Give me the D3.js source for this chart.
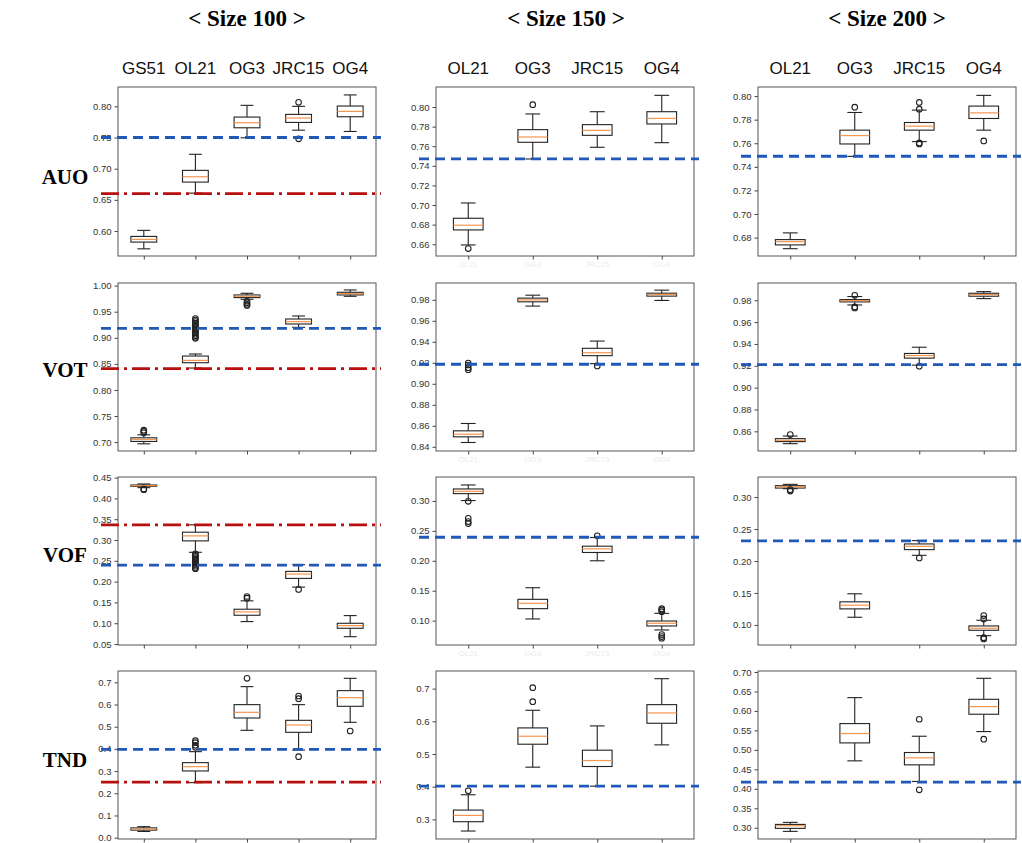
<!DOCTYPE html>
<html>
<head>
<meta charset="utf-8">
<script src="https://cdn.jsdelivr.net/npm/d3@7"></script>
<style>
  html, body { margin: 0; padding: 0; background: #fff; }
  svg { display: block; }
</style>
</head>
<body>
<svg id="chart" width="1022" height="843"></svg>
<script>
// ---------------- DATA ----------------
const metrics = ["AUO", "VOT", "VOF", "TND"];
const sizeTitles = ["< Size 100 >", "< Size 150 >", "< Size 200 >"];
const categories100 = ["GS51", "OL21", "OG3", "JRC15", "OG4"];
const categories150 = ["OL21", "OG3", "JRC15", "OG4"];
const categories200 = ["OL21", "OG3", "JRC15", "OG4"];

// box stats per category: [whiskerLow, Q1, median, Q3, whiskerHigh]
const auo100 = [[0.5715,0.5823,0.5866,0.5914,0.6011],[0.6608,0.6785,0.6871,0.6973,0.7231],[0.7495,0.7656,0.7737,0.7828,0.8016],[0.7618,0.7742,0.7812,0.7871,0.8000],[0.7597,0.7833,0.7919,0.8005,0.8183]];
const auo100Out = [[],[],[],[0.8065,0.7479],[]];
const auo150 = [[0.6593,0.6746,0.6794,0.6865,0.7021],[0.7470,0.7640,0.7694,0.7769,0.7929],[0.7589,0.7711,0.7762,0.7820,0.7952],[0.7636,0.7827,0.7884,0.7952,0.8119]];
const auo150Out = [[0.6556],[0.8024],[],[]];
const auo200 = [[0.6706,0.6738,0.6766,0.6783,0.6840],[0.7489,0.7594,0.7665,0.7711,0.7861],[0.7614,0.7711,0.7745,0.7776,0.7881],[0.7711,0.7810,0.7858,0.7915,0.8006]];
const auo200Out = [[],[0.7906],[0.7946,0.7889,0.7603,0.7594],[0.7620]];

const vot100 = [[0.6968,0.7013,0.7050,0.7083,0.7140],[0.8420,0.8522,0.8567,0.8650,0.8689],[0.9738,0.9770,0.9795,0.9821,0.9853],[0.9200,0.9264,0.9309,0.9360,0.9418],[0.9795,0.9821,0.9846,0.9872,0.9917]];
const vot100Out = [[0.7230,0.7205,0.7179],[0.937,0.934,0.931,0.928,0.925,0.922,0.919,0.916,0.913,0.910,0.907,0.904,0.901,0.899],[0.9700,0.9670,0.9640,0.9620],[],[]];
const vot150 = [[0.8441,0.8495,0.8520,0.8552,0.8622],[0.9740,0.9781,0.9800,0.9816,0.9844],[0.9192,0.9268,0.9296,0.9338,0.9407],[0.9794,0.9835,0.9851,0.9863,0.9892]];
const vot150Out = [[0.9198,0.9179,0.9154,0.9135],[],[0.9170],[]];
const vot200 = [[0.8487,0.8506,0.8518,0.8533,0.8557],[0.9757,0.9785,0.9797,0.9806,0.9834],[0.9206,0.9270,0.9294,0.9313,0.9370],[0.9815,0.9837,0.9852,0.9864,0.9879]];
const vot200Out = [[0.8570],[0.9846,0.9739,0.9730],[0.9197],[]];

const vof100 = [[0.4259,0.4291,0.4307,0.4323,0.4347],[0.2705,0.2979,0.3100,0.3188,0.3365],[0.1039,0.1191,0.1272,0.1336,0.1538],[0.1868,0.2077,0.2182,0.2246,0.2407],[0.0676,0.0878,0.0942,0.0998,0.1183]];
const vof100Out = [[0.4226,0.4210],[0.267,0.264,0.261,0.258,0.255,0.252,0.248,0.245,0.241,0.237,0.233,0.231],[0.1642,0.1602],[0.1811],[]];
const vof150 = [[0.3006,0.3122,0.3161,0.3200,0.3267],[0.1028,0.1200,0.1289,0.1356,0.1550],[0.2000,0.2139,0.2200,0.2244,0.2389],[0.0844,0.0911,0.0956,0.0994,0.1122]];
const vof150Out = [[0.2994,0.2711,0.2656,0.2622],[],[0.2417],[0.1200,0.1178,0.1150,0.0767,0.0733,0.0706]];
const vof200 = [[0.3131,0.3141,0.3162,0.3178,0.3199],[0.1120,0.1251,0.1309,0.1361,0.1487],[0.2089,0.2178,0.2230,0.2267,0.2319],[0.0832,0.0916,0.0948,0.0984,0.1073]];
const vof200Out = [[0.3115,0.3094],[],[0.2047],[0.1147,0.1094,0.0801,0.0780]];

const tnd100 = [[0.0280,0.0340,0.0385,0.0440,0.0496],[0.2479,0.3005,0.3200,0.3380,0.3876],[0.4837,0.5393,0.5648,0.5994,0.6805],[0.3951,0.4747,0.5077,0.5288,0.5994],[0.5198,0.5919,0.6309,0.6625,0.7180]];
const tnd100Out = [[],[0.4372,0.4282,0.4161,0.4071],[0.7180],[0.6384,0.6264,0.3650],[0.4807]];
const tnd150 = [[0.2644,0.2929,0.3122,0.3285,0.3753],[0.4598,0.5300,0.5544,0.5799,0.6338],[0.4017,0.4618,0.4801,0.5117,0.5860],[0.5280,0.5941,0.6257,0.6511,0.7305]];
const tnd150Out = [[0.3875],[0.7030,0.6603],[],[]];
const tnd200 = [[0.2906,0.2983,0.3051,0.3085,0.3137],[0.4718,0.5179,0.5419,0.5675,0.6342],[0.4188,0.4615,0.4795,0.4932,0.5350],[0.5470,0.5915,0.6111,0.6299,0.6838]];
const tnd200Out = [[],[],[0.5786,0.3974],[0.5274]];

// horizontal reference lines (blue dashed for every panel, red dash-dot only for size 100)
const blueLines = [[0.750,0.747,0.749],[0.918,0.9186,0.921],[0.2395,0.2393,0.2315],[0.398,0.4017,0.4172]];
const redLines = [0.660, 0.841, 0.3365, 0.2507];

// y-axis limits and tick labels per panel
const yLimits = [
  [[0.560,0.831],[0.648,0.8204],[0.6644,0.8077]],
  [[0.683,1.005],[0.836,0.996],[0.842,0.9958]],
  [[0.0476,0.4515],[0.0593,0.340],[0.0686,0.3314]],
  [[-0.006,0.751],[0.240,0.754],[0.271,0.7026]]
];
const yTicks = [
  [["0.60","0.65","0.70","0.75","0.80"],["0.66","0.68","0.70","0.72","0.74","0.76","0.78","0.80"],["0.68","0.70","0.72","0.74","0.76","0.78","0.80"]],
  [["0.70","0.75","0.80","0.85","0.90","0.95","1.00"],["0.84","0.86","0.88","0.90","0.92","0.94","0.96","0.98"],["0.86","0.88","0.90","0.92","0.94","0.96","0.98"]],
  [["0.05","0.10","0.15","0.20","0.25","0.30","0.35","0.40","0.45"],["0.10","0.15","0.20","0.25","0.30"],["0.10","0.15","0.20","0.25","0.30"]],
  [["0.0","0.1","0.2","0.3","0.4","0.5","0.6","0.7"],["0.3","0.4","0.5","0.6","0.7"],["0.30","0.35","0.40","0.45","0.50","0.55","0.60","0.65","0.70"]]
];

const panelStats = [[auo100,auo150,auo200],[vot100,vot150,vot200],[vof100,vof150,vof200],[tnd100,tnd150,tnd200]];
const panelOut = [[auo100Out,auo150Out,auo200Out],[vot100Out,vot150Out,vot200Out],[vof100Out,vof150Out,vof200Out],[tnd100Out,tnd150Out,tnd200Out]];
const columnCats = [categories100, categories150, categories200];

// ---------------- LAYOUT ----------------
const colX = [[118,376],[436,694],[758,1016]];
const rowY = [[87,256],[283,451],[477,645],[671,839]];
const colCenters = [247, 566, 887];
const rowCenters = [177, 370, 555, 760];

const svg = d3.select("#chart");
svg.append("rect").attr("width",1022).attr("height",843).attr("fill","#fff");

// column titles
svg.selectAll("text.title").data(sizeTitles).join("text")
  .attr("class","title")
  .attr("x",(d,i)=>colCenters[i]).attr("y",26)
  .attr("text-anchor","middle")
  .attr("font-family","'Liberation Serif','Times New Roman',serif")
  .attr("font-weight","bold").attr("font-size",23)
  .attr("fill","#000").text(d=>d);

// row labels
svg.selectAll("text.rowlab").data(metrics).join("text")
  .attr("class","rowlab")
  .attr("x",65).attr("y",(d,i)=>rowCenters[i]+7)
  .attr("text-anchor","middle")
  .attr("font-family","'Liberation Serif','Times New Roman',serif")
  .attr("font-weight","bold").attr("font-size",21)
  .attr("fill","#000").text(d=>d);

const blue = "#2159b8";
const red = "#b80f0f";

for (let r = 0; r < 4; r++) {
  for (let c = 0; c < 3; c++) {
    const cats = columnCats[c];
    const n = cats.length;
    const x = d3.scaleLinear().domain([0.5, n + 0.5]).range(colX[c]);
    const y = d3.scaleLinear().domain(yLimits[r][c]).range([rowY[r][1], rowY[r][0]]);
    const g = svg.append("g");
    const boxW = (n === 5 ? 0.5 : 0.46);
    const halfPx = (x(1 + boxW/2) - x(1));

    // category labels above first row
    if (r === 0) {
      svg.append("g").selectAll("text").data(cats).join("text")
        .attr("x",(d,i)=>x(i+1)).attr("y",74)
        .attr("text-anchor","middle")
        .attr("font-family","'Liberation Sans',Arial,sans-serif")
        .attr("font-size",17).attr("fill","#111").text(d=>d);
    }

    // y axis
    const ya = g.append("g").attr("transform",`translate(${colX[c][0]},0)`)
      .call(d3.axisLeft(y).tickValues(yTicks[r][c].map(Number))
        .tickFormat((d,i)=>yTicks[r][c][i]).tickSize(3.5).tickPadding(3));
    ya.select(".domain").remove();
    ya.selectAll(".tick line").attr("stroke","#444");
    ya.selectAll(".tick text").attr("font-family","'Liberation Sans',Arial,sans-serif")
      .attr("font-size",9.5).attr("fill","#333");

    // x axis ticks
    const xa = g.append("g").attr("transform",`translate(0,${rowY[r][1]})`)
      .call(d3.axisBottom(x).tickValues(d3.range(1,n+1)).tickFormat("").tickSize(3.5));
    xa.select(".domain").remove();
    xa.selectAll(".tick line").attr("stroke","#444");

    // faint tick labels in middle column
    if (c === 1 && r < 3) {
      g.append("g").selectAll("text").data(cats).join("text")
        .attr("x",(d,i)=>x(i+1)).attr("y",rowY[r][1]+11)
        .attr("text-anchor","middle")
        .attr("font-family","'Liberation Sans',Arial,sans-serif")
        .attr("font-size",8).attr("fill","#ececec").text(d=>d);
    }

    // frame
    g.append("rect").attr("x",colX[c][0]).attr("y",rowY[r][0])
      .attr("width",colX[c][1]-colX[c][0]).attr("height",rowY[r][1]-rowY[r][0])
      .attr("fill","none").attr("stroke","#555").attr("stroke-width",1);

    // boxes
    const stats = panelStats[r][c];
    const outs = panelOut[r][c];
    stats.forEach((s, i) => {
      const cx = x(i+1);
      const bg = g.append("g");
      bg.append("line").attr("x1",cx).attr("x2",cx).attr("y1",y(s[0])).attr("y2",y(s[1]))
        .attr("stroke","#222").attr("stroke-width",1.1);
      bg.append("line").attr("x1",cx).attr("x2",cx).attr("y1",y(s[3])).attr("y2",y(s[4]))
        .attr("stroke","#222").attr("stroke-width",1.1);
      [s[0], s[4]].forEach(v => {
        bg.append("line").attr("x1",cx-halfPx/2).attr("x2",cx+halfPx/2)
          .attr("y1",y(v)).attr("y2",y(v)).attr("stroke","#222").attr("stroke-width",1.1);
      });
      bg.append("rect").attr("x",cx-halfPx).attr("width",2*halfPx)
        .attr("y",y(s[3])).attr("height",Math.max(0.5,y(s[1])-y(s[3])))
        .attr("fill","#fff").attr("stroke","#222").attr("stroke-width",1.1);
      bg.append("line").attr("x1",cx-halfPx).attr("x2",cx+halfPx)
        .attr("y1",y(s[2])).attr("y2",y(s[2])).attr("stroke","#f5964e").attr("stroke-width",1.2);
      bg.selectAll("circle").data(outs[i]).join("circle")
        .attr("cx",cx).attr("cy",d=>y(d)).attr("r",2.8)
        .attr("fill","none").attr("stroke","#222").attr("stroke-width",1.1);
    });

    // reference lines
    const lx1 = colX[c][0] - 17, lx2 = Math.min(colX[c][1] + 5, 1022);
    g.append("line").attr("x1",lx1).attr("x2",lx2)
      .attr("y1",y(blueLines[r][c])).attr("y2",y(blueLines[r][c]))
      .attr("stroke",blue).attr("stroke-width",2.8).attr("stroke-dasharray","10,6");
    if (c === 0) {
      g.append("line").attr("x1",lx1).attr("x2",lx2)
        .attr("y1",y(redLines[r])).attr("y2",y(redLines[r]))
        .attr("stroke",red).attr("stroke-width",2.8).attr("stroke-dasharray","18,5,3,5");
    }
  }
}
</script>
</body>
</html>
